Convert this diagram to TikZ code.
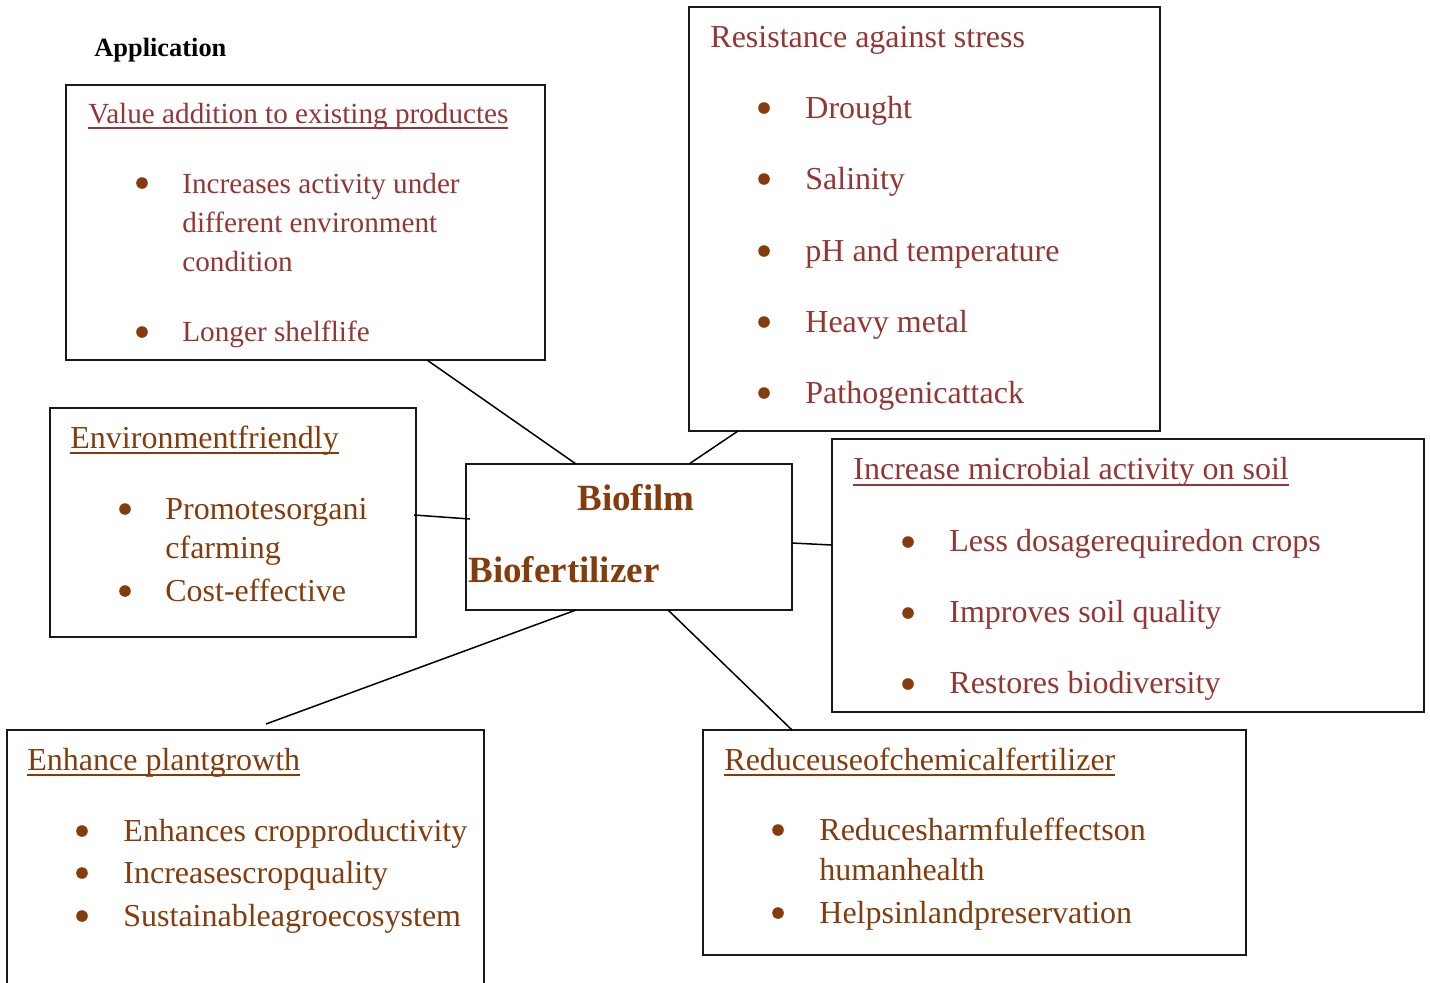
\documentclass[tikz,border=0pt]{standalone}
\usepackage{fontspec}
\setmainfont{Liberation Serif}
\usetikzlibrary{calc}
\definecolor{titlered}{HTML}{943634}
\definecolor{brownish}{HTML}{843C0C}
% underlined heading with a fixed rule below the baseline
\newcommand{\ulhead}[1]{\setbox0=\hbox{#1}\rlap{\rule[-3.2pt]{\wd0}{1pt}}\box0}
\begin{document}
\begin{tikzpicture}[x=0.5pt, y=-0.5pt,
  box/.style={draw=black!90, line width=1pt, inner sep=0pt, outer sep=0pt, anchor=north west},
  link/.style={draw=black, line width=0.75pt},
  txt/.style={anchor=base west, inner sep=0pt, font=\fontsize{16}{19}\selectfont},
  redtxt/.style={txt, text=titlered},
  browntxt/.style={txt, text=brownish},
  smalltxt/.style={redtxt, font=\fontsize{14.6}{18}\selectfont},
  headtxt/.style={anchor=base west, inner sep=0pt, text=brownish, font=\fontsize{18.5}{22}\selectfont\bfseries},
  bul/.style={fill=brownish}]
\path[use as bounding box] (0,0) rectangle (1430,982);
\clip (0,0) rectangle (1430,982);

% heading
\node[anchor=base west, inner sep=0pt, font=\fontsize{13.2}{16}\selectfont\bfseries] (app) at (94,56) {Application};

% frames
\node[box, minimum width=239.5pt, minimum height=137.5pt] (val) at (66,85) {};
\node[box, minimum width=235.5pt, minimum height=212pt]   (res) at (689,7) {};
\node[box, minimum width=183pt,   minimum height=114.5pt] (env) at (50,408) {};
\node[box, minimum width=163pt,   minimum height=73pt]    (ctr) at (466,464) {};
\node[box, minimum width=296pt,   minimum height=136.5pt] (mic) at (832,439) {};
\node[box, minimum width=238.5pt, minimum height=140pt]   (enh) at (7,730) {};
\node[box, minimum width=271.5pt, minimum height=112.5pt] (red) at (703,730) {};
\coordinate (enhtop) at (266,724);

% connectors
\draw[link] ($(val.south west)+(361,0)$) -- ($(ctr.north west)+(110,0)$);
\draw[link] ($(res.south west)+(49,0)$) -- ($(ctr.north west)+(223,0)$);
\draw[link] ($(env.north east)+(-2,107)$) -- ($(ctr.north west)+(4,55)$);
\draw[link] ($(ctr.north east)+(0,79)$) -- ($(mic.north west)+(0,106)$);
\draw[link] ($(ctr.south west)+(110,0)$) -- (enhtop);
\draw[link] ($(ctr.south west)+(202,0)$) -- ($(red.north west)+(89,0)$);

% centre
\node[headtxt] (bf1) at (577,510) {Biofilm};
\node[headtxt] (bf2) at (468,582) {Biofertilizer};

% value addition
\node[smalltxt] (valt) at (88,123) {\ulhead{Value addition to existing productes}};
\fill[bul] (142,183) circle (2.9pt);
\node[smalltxt] (val1a) at (182,193) {Increases activity under};
\node[smalltxt] (val1b) at (182,232) {different environment};
\node[smalltxt] (val1c) at (182,271) {condition};
\fill[bul] (142,332) circle (2.9pt);
\node[smalltxt] (val2) at (182,341) {Longer shelflife};

% resistance
\node[redtxt] (rest) at (710,47) {Resistance against stress};
\foreach \yb/\yt/\t [count=\i] in {108/118.5/Drought, 179/189.5/Salinity, 251/261.5/pH and temperature, 322/332.5/Heavy metal, 393/403.5/Pathogenicattack}{
  \fill[bul] (764,\yb) circle (2.9pt);
  \node[redtxt] (res\i) at (805,\yt) {\t};
}

% environment
\node[browntxt] (envt) at (70,448) {\ulhead{Environmentfriendly}};
\fill[bul] (125,509) circle (2.9pt);
\node[browntxt] (env1a) at (165,519) {Promotesorgani};
\node[browntxt] (env1b) at (165,558) {cfarming};
\fill[bul] (125,591) circle (2.9pt);
\node[browntxt] (env2) at (165,601) {Cost-effective};

% microbial activity
\node[redtxt] (mict) at (853,479.5) {\ulhead{Increase microbial activity on soil}};
\foreach \yb/\yt/\t [count=\i] in {542/551.5/Less dosagerequiredon crops, 613/622.5/Improves soil quality, 684/693.5/Restores biodiversity}{
  \fill[bul] (908,\yb) circle (2.9pt);
  \node[redtxt] (mic\i) at (949,\yt) {\t};
}

% plant growth
\node[browntxt] (enht) at (27,770) {\ulhead{Enhance plantgrowth}};
\foreach \yb/\yt/\t [count=\i] in {831/841/Enhances cropproductivity, 873/883/Increasescropquality, 916/926/Sustainableagroecosystem}{
  \fill[bul] (82,\yb) circle (2.9pt);
  \node[browntxt] (enh\i) at (123,\yt) {\t};
}

% chemical fertilizer
\node[browntxt] (redt) at (724,770) {\ulhead{Reduceuseofchemicalfertilizer}};
\fill[bul] (778,830) circle (2.9pt);
\node[browntxt] (red1a) at (819,840.5) {Reducesharmfuleffectson};
\node[browntxt] (red1b) at (819,880.5) {humanhealth};
\fill[bul] (778,913) circle (2.9pt);
\node[browntxt] (red2) at (819,923.5) {Helpsinlandpreservation};
\end{tikzpicture}
\end{document}
